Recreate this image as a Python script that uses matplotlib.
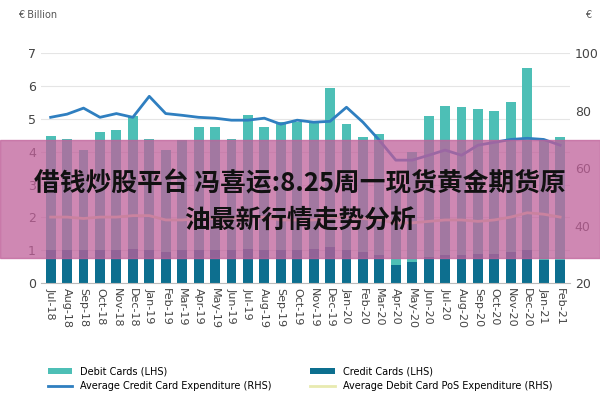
import matplotlib
matplotlib.use("Agg")
import matplotlib.pyplot as plt
import numpy as np
from matplotlib.patches import Rectangle

months = ["Jul-18","Aug-18","Sep-18","Oct-18","Nov-18","Dec-18","Jan-19","Feb-19","Mar-19","Apr-19","May-19","Jun-19",
          "Jul-19","Aug-19","Sep-19","Oct-19","Nov-19","Dec-19","Jan-20","Feb-20","Mar-20","Apr-20","May-20","Jun-20",
          "Jul-20","Aug-20","Sep-20","Oct-20","Nov-20","Dec-20","Jan-21","Feb-21"]
total_cards = [4.47,4.38,4.04,4.6,4.65,5.1,4.38,4.04,4.35,4.75,4.75,4.4,5.12,4.75,4.9,4.9,4.9,5.95,4.85,4.45,4.55,2.9,4.0,5.1,
               5.4,5.35,5.3,5.25,5.5,6.55,4.35,4.45]
credit_cards = [1.0,1.0,1.0,1.0,1.0,1.05,1.0,0.95,1.0,1.0,1.0,1.0,1.05,1.0,1.0,1.0,1.05,1.1,1.0,0.95,0.85,0.55,0.65,0.8,
                0.85,0.85,0.9,0.9,0.95,1.0,0.7,0.7]
debit_cards = [t - c for t, c in zip(total_cards, credit_cards)]
avg_credit = [77.7,78.8,80.9,77.7,79,77.7,85,79,78.4,77.7,77.4,76.7,76.7,77.4,75.3,76.7,76,76.3,81.2,76,69.7,62.8,62.8,64.5,
              66.3,64.5,68,69,70,70.4,70,68]
avg_debit = [43,43,42.5,43,43,43.5,43.5,42,42,42.5,42.5,42.5,42.5,43,42,42,42,43,43,42.5,42,41,41,41.5,42,42,41.5,42,43,44.5,44,43]

fig = plt.figure(figsize=(6, 4), dpi=100)
ax = fig.add_axes([0.068, 0.292, 0.882, 0.575])
x = np.arange(len(months))
ax.bar(x, credit_cards, width=0.6, color="#0d6f8f", label="Credit Cards (LHS)")
ax.bar(x, debit_cards, width=0.6, bottom=credit_cards, color="#4dbfb6", label="Debit Cards (LHS)")
ax.set_ylim(0, 7)
ax.set_xlim(-0.6, len(months) - 0.4)
ax.set_yticks(range(0, 8))
ax.set_xticks(x)
ax.set_xticklabels(months, rotation=-90, fontsize=8, color="#444")
ax.tick_params(axis="y", labelsize=9, colors="#444", length=0)
ax.tick_params(axis="x", length=0)
ax.grid(axis="y", color="#e5e5e5", lw=0.8)
ax.set_axisbelow(True)
for s in ["top", "right", "left"]:
    ax.spines[s].set_visible(False)
ax.spines["bottom"].set_color("#bbb")

ax2 = ax.twinx()
ax2.plot(x, avg_credit, color="#2f7fc0", lw=2, label="Average Credit Card Expenditure (RHS)")
ax2.plot(x, avg_debit, color="#e8eab0", lw=2, label="Average Debit Card PoS Expenditure (RHS)")
ax2.set_ylim(20, 100)
ax2.set_yticks([20, 40, 60, 80, 100])
ax2.tick_params(axis="y", labelsize=9, colors="#444", length=0)
for s in ["top", "right", "left", "bottom"]:
    ax2.spines[s].set_visible(False)

fig.text(0.03, 0.955, "€ Billion", fontsize=7, color="#555")
fig.text(0.975, 0.955, "€", fontsize=7, color="#555")

h1, l1 = ax.get_legend_handles_labels()
h2, l2 = ax2.get_legend_handles_labels()
fig.legend([h1[1], h2[0], h1[0], h2[1]], [l1[1], l2[0], l1[0], l2[1]], ncol=2, loc="lower center",
           bbox_to_anchor=(0.5, 0.0), fontsize=7, frameon=False, columnspacing=4, handlelength=2.5)

fig.patches.append(Rectangle((0, 0.355), 1, 0.295, transform=fig.transFigure, color="#c0609a", alpha=0.75, zorder=10))
fig.text(0.5, 0.54, "借钱炒股平台 冯喜运:8.25周一现货黄金期货原", ha="center", va="center", fontsize=18.5,
         fontweight="bold", family=["Noto Sans CJK SC", "DejaVu Sans"], color="#111", zorder=11)
fig.text(0.5, 0.45, "油最新行情走势分析", ha="center", va="center", fontsize=18.5,
         fontweight="bold", family=["Noto Sans CJK SC", "DejaVu Sans"], color="#111", zorder=11)

fig.savefig("out.png", dpi=100)
